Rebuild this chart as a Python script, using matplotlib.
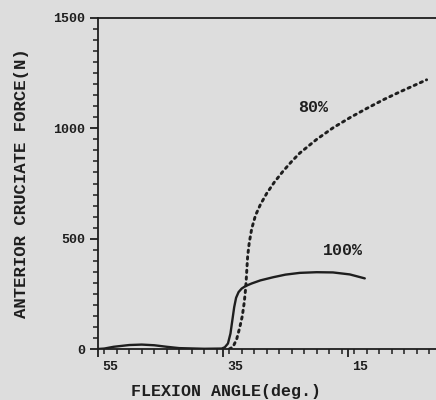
import numpy as np
import matplotlib
matplotlib.use("Agg")
import matplotlib.pyplot as plt
import matplotlib.transforms as mtransforms
from matplotlib.ticker import MultipleLocator

# ─── data ───
angle_100 = [55.0, 54.0, 52.5, 50.0, 48.0, 46.0, 44.0, 42.0, 38.0, 35.2, 34.7,
             34.2, 33.8, 33.5, 33.2, 32.9, 32.5, 32.0, 31.4, 30.4, 29.0, 27.0,
             25.0, 22.7, 20.0, 17.4, 14.7, 12.3]
force_100 = [0, 2, 10, 18, 20, 17, 10, 4, 1, 2, 8,
             25, 70, 130, 190, 232, 258, 274, 285, 297, 311, 325,
             337, 345, 348, 347, 338, 320]

angle_80 = [34.0, 33.4, 32.8, 32.3, 31.9, 31.6, 31.35, 31.2, 31.05, 30.8, 30.4,
            29.8, 29.0, 28.0, 26.8, 25.4, 24.0, 22.7, 20.0, 17.4, 14.7, 12.0,
            9.3, 6.7, 4.5, 2.4]
force_80 = [0, 9, 45, 99, 150, 210, 280, 350, 420, 480, 545,
            605, 655, 705, 755, 805, 850, 888, 950, 1002, 1048, 1090,
            1130, 1165, 1193, 1220]

x_major = [55, 35, 15]
y_major = [0, 500, 1000, 1500]

BG = "#dddddd"
INK = "#1e1e1e"
FONT = "Liberation Mono"

fig = plt.figure(figsize=(4.36, 4.0), dpi=100, facecolor=BG)
ax = fig.add_axes([0.2248, 0.1275, 0.7752, 0.8275], facecolor=BG)

ax.plot(angle_100, force_100, color=INK, lw=1.7, solid_capstyle="round",
        solid_joinstyle="round")
ax.plot(angle_80, force_80, color=INK, lw=2.1, linestyle=(0, (0.8, 1.5)),
        dash_capstyle="round")

ax.set_xlim(55, 0.9)
ax.set_ylim(0, 1500)

ax.set_xticks(x_major)
ax.set_yticks(y_major)
ax.xaxis.set_minor_locator(MultipleLocator(2))
ax.yaxis.set_minor_locator(MultipleLocator(50))
ax.tick_params(which="major", direction="out", length=6, width=1.3, color=INK,
               labelsize=9.5, labelcolor=INK, pad=3)
ax.tick_params(which="minor", direction="out", length=3.5, width=1.1, color=INK)
for lab in ax.get_xticklabels() + ax.get_yticklabels():
    lab.set_fontfamily(FONT)
    lab.set_fontweight("bold")

# the typed labels sit a little right of their ticks
shift = mtransforms.ScaledTranslation(12 / 100, 0, fig.dpi_scale_trans)
for lab in ax.get_xticklabels():
    lab.set_transform(lab.get_transform() + shift)

for side in ["left", "bottom", "top"]:
    ax.spines[side].set_color(INK)
    ax.spines[side].set_linewidth(1.3)
ax.spines["right"].set_visible(False)

ax.set_xlabel("FLEXION ANGLE(deg.)", fontfamily=FONT, fontweight="bold",
              fontsize=12, color=INK)
ax.set_ylabel("ANTERIOR CRUCIATE FORCE(N)", fontfamily=FONT, fontweight="bold",
              fontsize=12.5, color=INK)
ax.xaxis.set_label_coords(0.38, -0.107)
ax.yaxis.set_label_coords(-0.205, 0.5)

ax.text(20.5, 1095, "80%", fontfamily=FONT, fontweight="bold", fontsize=12,
        color=INK, ha="center", va="center")
ax.text(15.8, 445, "100%", fontfamily=FONT, fontweight="bold", fontsize=12,
        color=INK, ha="center", va="center")

fig.savefig("out.png", dpi=100, facecolor=BG)
